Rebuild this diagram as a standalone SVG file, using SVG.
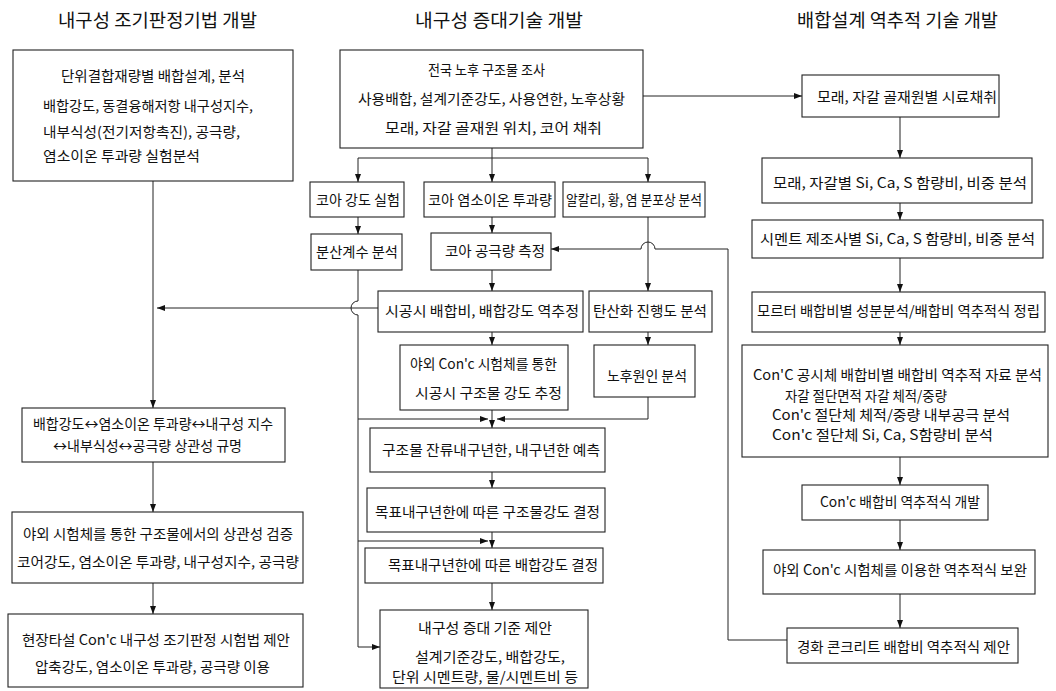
<svg xmlns="http://www.w3.org/2000/svg" width="1056" height="691" viewBox="0 0 1056 691">
<defs>
<marker id="ah" markerUnits="userSpaceOnUse" markerWidth="8" markerHeight="6" refX="8" refY="3" orient="auto">
<path d="M0,0 L8,3 L0,6 z" fill="#111"/>
</marker>
<style>
rect{fill:#fff;stroke:#222;stroke-width:1.1}
text{font-family:"Noto Sans CJK KR","Noto Sans",sans-serif;font-size:14px;fill:#111}
.h{font-size:18px}
#connectors path,#connectors line{fill:none;stroke:#222;stroke-width:1}
.a{marker-end:url(#ah)}
</style>
</defs>
<rect width="1056" height="691" style="fill:#fff;stroke:none"/>
<g id="titles">
<text class="h" x="58" y="27" textLength="199" lengthAdjust="spacingAndGlyphs">내구성 조기판정기법 개발</text>
<text class="h" x="415" y="27" textLength="168" lengthAdjust="spacingAndGlyphs">내구성 증대기술 개발</text>
<text class="h" x="797" y="27" textLength="201" lengthAdjust="spacingAndGlyphs">배합설계 역추적 기술 개발</text>
</g>
<g id="connectors">
<line class="a" x1="153" y1="181" x2="153" y2="408"/>
<line class="a" x1="153" y1="462" x2="153" y2="512"/>
<line class="a" x1="153" y1="583" x2="153" y2="614"/>
<path class="a" d="M378,308 H157"/>
<line class="a" x1="643" y1="96" x2="802" y2="96"/>
<path d="M492,148 V158 M358,158 H648"/>
<line class="a" x1="358" y1="158" x2="358" y2="182"/>
<line class="a" x1="492" y1="158" x2="492" y2="182"/>
<line class="a" x1="648" y1="158" x2="648" y2="182"/>
<line class="a" x1="358" y1="217" x2="358" y2="234"/>
<line class="a" x1="492" y1="217" x2="492" y2="233"/>
<line class="a" x1="648" y1="217" x2="648" y2="291"/>
<line class="a" x1="492" y1="270" x2="492" y2="291"/>
<line class="a" x1="492" y1="332" x2="492" y2="345"/>
<line class="a" x1="648" y1="332" x2="648" y2="345"/>
<line class="a" x1="492" y1="410" x2="492" y2="428"/>
<path class="a" d="M648,397 V419 H497"/>
<path d="M358,270 V301 A7,7 0 0 0 358,315 V647"/>
<path class="a" d="M358,419 H488"/>
<path class="a" d="M358,541 H488"/>
<path class="a" d="M358,647 H380"/>
<line class="a" x1="492" y1="472" x2="492" y2="488"/>
<line class="a" x1="492" y1="532" x2="492" y2="548"/>
<line class="a" x1="492" y1="583" x2="492" y2="610"/>
<path class="a" d="M787,640 H728 V249 H655 A7,7 0 0 0 641,249 H551"/>
<line class="a" x1="900" y1="117" x2="900" y2="158"/>
<line class="a" x1="900" y1="203" x2="900" y2="220"/>
<line class="a" x1="900" y1="258" x2="900" y2="292"/>
<line class="a" x1="900" y1="332" x2="900" y2="345"/>
<line class="a" x1="900" y1="457" x2="900" y2="485"/>
<line class="a" x1="900" y1="520" x2="900" y2="550"/>
<line class="a" x1="900" y1="594" x2="900" y2="628"/>
</g>
<g id="L1"><rect x="13" y="50" width="280" height="131"/>
<text x="61" y="81" textLength="184" lengthAdjust="spacingAndGlyphs">단위결합재량별 배합설계, 분석</text>
<text x="43" y="111" textLength="210" lengthAdjust="spacingAndGlyphs">배합강도, 동결융해저항 내구성지수,</text>
<text x="43" y="137" textLength="197" lengthAdjust="spacingAndGlyphs">내부식성(전기저항촉진), 공극량,</text>
<text x="43" y="161" textLength="157" lengthAdjust="spacingAndGlyphs">염소이온 투과량  실험분석</text></g>
<g id="L2"><rect x="22" y="408" width="263" height="54"/>
<text x="33" y="429" textLength="240" lengthAdjust="spacingAndGlyphs">배합강도↔염소이온 투과량↔내구성 지수</text>
<text x="53" y="451" textLength="189" lengthAdjust="spacingAndGlyphs">↔내부식성↔공극량 상관성 규명</text></g>
<g id="L3"><rect x="12" y="512" width="291" height="71"/>
<text x="23" y="539" textLength="270" lengthAdjust="spacingAndGlyphs">야외 시험체를 통한 구조물에서의 상관성 검증</text>
<text x="17" y="567" textLength="282" lengthAdjust="spacingAndGlyphs">코어강도, 염소이온 투과량, 내구성지수, 공극량</text></g>
<g id="L4"><rect x="8" y="614" width="295" height="73"/>
<text x="22" y="645" textLength="268" lengthAdjust="spacingAndGlyphs">현장타설 Con'c 내구성 조기판정 시험법 제안</text>
<text x="35" y="672" textLength="235" lengthAdjust="spacingAndGlyphs">압축강도, 염소이온 투과량, 공극량 이용</text></g>
<g id="M1"><rect x="340" y="50" width="303" height="98"/>
<text x="428" y="75" textLength="117" lengthAdjust="spacingAndGlyphs">전국 노후 구조물 조사</text>
<text x="358" y="104" textLength="267" lengthAdjust="spacingAndGlyphs">사용배합, 설계기준강도, 사용연한, 노후상황</text>
<text x="385" y="133" textLength="217" lengthAdjust="spacingAndGlyphs">모래, 자갈 골재원 위치, 코어 채취</text></g>
<g id="M2"><rect x="310" y="182" width="94" height="35"/>
<text x="316" y="205" textLength="84" lengthAdjust="spacingAndGlyphs">코아 강도 실험</text></g>
<g id="M3"><rect x="424" y="182" width="131" height="35"/>
<text x="428" y="205" textLength="124" lengthAdjust="spacingAndGlyphs">코아 염소이온 투과량</text></g>
<g id="M4"><rect x="563" y="182" width="142" height="35"/>
<text x="566" y="205" textLength="136" lengthAdjust="spacingAndGlyphs">알칼리, 황, 염 분포상 분석</text></g>
<g id="M5"><rect x="311" y="234" width="91" height="36"/>
<text x="316" y="257" textLength="82" lengthAdjust="spacingAndGlyphs">분산계수 분석</text></g>
<g id="M6"><rect x="431" y="233" width="120" height="37"/>
<text x="445" y="256" textLength="100" lengthAdjust="spacingAndGlyphs">코아 공극량 측정</text></g>
<g id="M7"><rect x="378" y="291" width="205" height="41"/>
<text x="385" y="316" textLength="194" lengthAdjust="spacingAndGlyphs">시공시 배합비, 배합강도 역추정</text></g>
<g id="M8"><rect x="589" y="291" width="123" height="41"/>
<text x="593" y="316" textLength="114" lengthAdjust="spacingAndGlyphs">탄산화 진행도 분석</text></g>
<g id="M9"><rect x="400" y="345" width="168" height="65"/>
<text x="410" y="369" textLength="147" lengthAdjust="spacingAndGlyphs">야외 Con'c 시험체를 통한</text>
<text x="415" y="398" textLength="147" lengthAdjust="spacingAndGlyphs">시공시 구조물 강도 추정</text></g>
<g id="M10"><rect x="594" y="345" width="101" height="52"/>
<text x="607" y="381" textLength="80" lengthAdjust="spacingAndGlyphs">노후원인 분석</text></g>
<g id="M11"><rect x="370" y="428" width="235" height="44"/>
<text x="382" y="455" textLength="218" lengthAdjust="spacingAndGlyphs">구조물 잔류내구년한, 내구년한 예측</text></g>
<g id="M12"><rect x="367" y="488" width="238" height="44"/>
<text x="375" y="517" textLength="225" lengthAdjust="spacingAndGlyphs">목표내구년한에 따른 구조물강도 결정</text></g>
<g id="M13"><rect x="365" y="548" width="238" height="35"/>
<text x="388" y="570" textLength="210" lengthAdjust="spacingAndGlyphs">목표내구년한에 따른 배합강도 결정</text></g>
<g id="M14"><rect x="380" y="610" width="208" height="78"/>
<text x="418" y="633" textLength="134" lengthAdjust="spacingAndGlyphs">내구성 증대 기준 제안</text>
<text x="415" y="662" textLength="150" lengthAdjust="spacingAndGlyphs">설계기준강도, 배합강도,</text>
<text x="392" y="682" textLength="186" lengthAdjust="spacingAndGlyphs">단위 시멘트량, 물/시멘트비 등</text></g>
<g id="R1"><rect x="802" y="75" width="197" height="42"/>
<text x="817" y="102" textLength="180" lengthAdjust="spacingAndGlyphs">모래, 자갈 골재원별 시료채취</text></g>
<g id="R2"><rect x="762" y="158" width="270" height="45"/>
<text x="773" y="188" textLength="254" lengthAdjust="spacingAndGlyphs">모래, 자갈별 Si, Ca, S 함량비, 비중 분석</text></g>
<g id="R3"><rect x="752" y="220" width="291" height="38"/>
<text x="760" y="244" textLength="275" lengthAdjust="spacingAndGlyphs">시멘트 제조사별 Si, Ca, S 함량비, 비중 분석</text></g>
<g id="R4"><rect x="752" y="292" width="293" height="40"/>
<text x="757" y="316" textLength="283" lengthAdjust="spacingAndGlyphs">모르터 배합비별 성분분석/배합비 역추적식 정립</text></g>
<g id="R5"><rect x="742" y="345" width="306" height="112"/>
<text x="753" y="380" textLength="289" lengthAdjust="spacingAndGlyphs">Con'C 공시체 배합비별 배합비 역추적 자료 분석</text>
<text x="785" y="401" textLength="162" lengthAdjust="spacingAndGlyphs">자갈 절단면적  자갈 체적/중량</text>
<text x="772" y="420" textLength="238" lengthAdjust="spacingAndGlyphs">Con'c 절단체 체적/중량 내부공극 분석</text>
<text x="772" y="440" textLength="221" lengthAdjust="spacingAndGlyphs">Con'c 절단체 Si, Ca, S함량비 분석</text></g>
<g id="R6"><rect x="802" y="485" width="186" height="35"/>
<text x="820" y="507" textLength="160" lengthAdjust="spacingAndGlyphs">Con'c 배합비 역추적식 개발</text></g>
<g id="R7"><rect x="763" y="550" width="272" height="44"/>
<text x="773" y="575" textLength="254" lengthAdjust="spacingAndGlyphs">야외 Con'c 시험체를 이용한 역추적식 보완</text></g>
<g id="R8"><rect x="787" y="628" width="231" height="35"/>
<text x="797" y="652" textLength="213" lengthAdjust="spacingAndGlyphs">경화 콘크리트 배합비 역추적식 제안</text></g>
</svg>
